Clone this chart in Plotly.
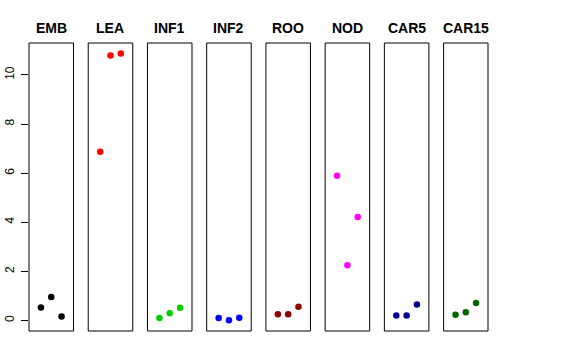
import plotly.graph_objects as go

tissues = ["EMB", "LEA", "INF1", "INF2", "ROO", "NOD", "CAR5", "CAR15"]
replicates = [1, 2, 3]
values = {
    "EMB":   [0.53, 0.95, 0.16],
    "LEA":   [6.87, 10.79, 10.87],
    "INF1":  [0.10, 0.29, 0.52],
    "INF2":  [0.10, 0.01, 0.11],
    "ROO":   [0.25, 0.25, 0.56],
    "NOD":   [5.89, 2.25, 4.21],
    "CAR5":  [0.20, 0.20, 0.65],
    "CAR15": [0.23, 0.33, 0.71],
}
colors = ["#000000", "#FF0000", "#00CD00", "#0000FF", "#8B0000", "#FF00FF", "#00008B", "#006400"]
y_ticks = [0, 2, 4, 6, 8, 10]

W, H = 576, 360
left, right, top, bottom = 29, 88.3, 43.3, 29
plot_w = W - left - right
pitch = 59.19
pw = 44.5

fig = go.Figure()
layout = dict(
    width=W, height=H,
    margin=dict(l=left, r=right, t=top, b=bottom, pad=0, autoexpand=False),
    paper_bgcolor="white", plot_bgcolor="white",
    showlegend=False,
    font=dict(family="Liberation Sans, Arial, sans-serif", color="black"),
)
shapes = []
annotations = []
for i, t in enumerate(tissues):
    ax = "x" if i == 0 else f"x{i+1}"
    axkey = "xaxis" if i == 0 else f"xaxis{i+1}"
    d0 = (pitch * i) / plot_w
    d1 = (pitch * i + pw) / plot_w
    layout[axkey] = dict(domain=[d0, min(d1, 1)], range=[-0.16, 4.16], visible=False,
                         anchor="y", fixedrange=True, automargin=False)
    fig.add_trace(go.Scatter(x=replicates, y=values[t], mode="markers", xaxis=ax, yaxis="y",
                             marker=dict(color=colors[i], size=6.5, line=dict(width=0))))
    shapes.append(dict(type="rect", xref=f"{ax} domain", yref="y domain", x0=0, x1=1, y0=0, y1=1,
                       line=dict(color="black", width=1), fillcolor="rgba(0,0,0,0)", layer="above"))
    annotations.append(dict(text=f"<b>{t}</b>", xref=f"{ax} domain", yref="paper", x=0.5, y=1,
                            xanchor="center", yanchor="bottom", yshift=5, showarrow=False,
                            font=dict(size=14, color="black", family="Liberation Sans, Arial, sans-serif")))

layout["yaxis"] = dict(range=[-0.43, 11.3], tickvals=y_ticks, ticktext=[str(v) for v in y_ticks],
                       ticks="outside", ticklen=7, tickcolor="black", tickwidth=1,
                       tickangle=-90, showgrid=False, zeroline=False, showline=False,
                       tickfont=dict(size=12, color="black"), anchor="x", ticklabelstandoff=2,
                       automargin=False)
layout["shapes"] = shapes
layout["annotations"] = annotations
fig.update_layout(**layout)
fig.write_html("out.html", config={"displayModeBar": False},
               post_script="document.body.style.margin='0';document.body.style.padding='0';")
